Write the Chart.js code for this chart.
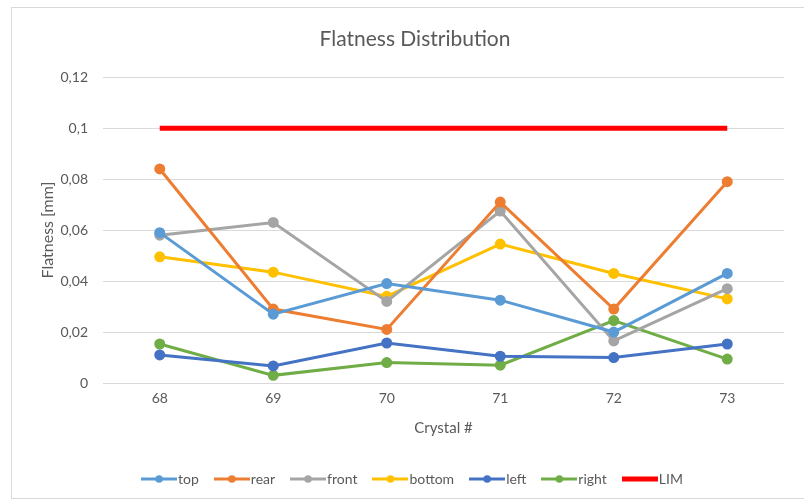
<!DOCTYPE html>
<html>
<head>
<meta charset="utf-8">
<script src="https://cdn.jsdelivr.net/npm/chart.js@4.4.1/dist/chart.umd.min.js"></script>
<style>
  html, body { margin: 0; padding: 0; background: #fff; overflow: hidden; }
  #frame {
    position: absolute; left: 11px; top: 7px; width: 820px; height: 492px;
    border: 1px solid #d9d9d9; box-sizing: border-box;
  }
  #wrap { position: absolute; left: 0; top: 0; width: 804px; height: 501px; }
</style>
</head>
<body>
<div id="frame"></div>
<div id="wrap"><canvas id="chart"></canvas></div>
<script>
// Flatness per crystal
const crystals = ['68', '69', '70', '71', '72', '73'];
const topVals    = [0.059, 0.027, 0.039, 0.0325, 0.020, 0.043];
const rearVals   = [0.084, 0.029, 0.021, 0.071, 0.029, 0.079];
const frontVals  = [0.058, 0.063, 0.032, 0.0675, 0.0165, 0.037];
const bottomVals = [0.0495, 0.0435, 0.034, 0.0545, 0.043, 0.033];
const leftVals   = [0.011, 0.0067, 0.0157, 0.0105, 0.010, 0.0153];
const rightVals  = [0.0153, 0.003, 0.008, 0.007, 0.0245, 0.0094];
const limVals    = [0.1, 0.1, 0.1, 0.1, 0.1, 0.1];
const yTicks = [0, 0.02, 0.04, 0.06, 0.08, 0.1, 0.12];

const TEXT = '#595959';
const GRID = '#d9d9d9';

const series = [
    { label: 'top',    data: topVals,    color: '#5b9bd5' },
    { label: 'rear',   data: rearVals,   color: '#ed7d31' },
    { label: 'front',  data: frontVals,  color: '#a5a5a5' },
    { label: 'bottom', data: bottomVals, color: '#ffc000' },
    { label: 'left',   data: leftVals,   color: '#4472c4' },
    { label: 'right',  data: rightVals,  color: '#70ad47' },
    { label: 'LIM',    data: limVals,    color: '#ff0000', lim: true },
];

// little line-with-marker swatch for the legend, like Excel draws it
function legendIcon(color, thick) {
    const c = document.createElement('canvas');
    c.width = 36; c.height = 10;
    const g = c.getContext('2d');
    g.strokeStyle = color;
    g.lineWidth = thick ? 5 : 3;
    g.beginPath(); g.moveTo(0, 5); g.lineTo(36, 5); g.stroke();
    if (!thick) {
        g.fillStyle = color;
        g.beginPath(); g.arc(18, 5, 3.8, 0, Math.PI * 2); g.fill();
    }
    return c;
}

Chart.defaults.font.family = "Lato, 'Open Sans', sans-serif";
Chart.defaults.color = TEXT;

new Chart(document.getElementById('chart'), {
    type: 'line',
    data: {
        labels: crystals,
        datasets: series.map(s => ({
            label: s.label,
            data: s.data,
            borderColor: s.color,
            backgroundColor: s.color,
            borderWidth: s.lim ? 5 : 3,
            pointRadius: s.lim ? 0 : 4,
            pointHoverRadius: s.lim ? 0 : 5,
            pointBackgroundColor: s.color,
            pointBorderColor: s.color,
            tension: 0,
            order: s.lim ? 10 : 0,
        })),
    },
    options: {
        responsive: true,
        maintainAspectRatio: false,
        animation: false,
        layout: { padding: { left: 26, right: 0, top: 27, bottom: 5 } },
        plugins: {
            title: {
                display: true,
                text: 'Flatness Distribution',
                color: TEXT,
                font: { size: 21, weight: 'normal' },
                padding: { top: 0, bottom: 25 },
            },
            legend: {
                position: 'bottom',
                labels: {
                    usePointStyle: true,
                    pointStyleWidth: 24,
                    padding: 21,
                    color: TEXT,
                    font: { size: 14 },
                    generateLabels(chart) {
                        const items = Chart.defaults.plugins.legend.labels.generateLabels(chart);
                        items.forEach((it, i) => {
                            it.pointStyle = legendIcon(series[i].color, !!series[i].lim);
                        });
                        return items;
                    },
                },
            },
            tooltip: { enabled: false },
        },
        scales: {
            x: {
                offset: true,
                grid: { display: false, drawTicks: false },
                border: { display: false },
                ticks: { color: TEXT, font: { size: 14 }, padding: 7 },
                title: { display: true, text: 'Crystal #', color: TEXT, font: { size: 15 }, padding: { top: 8, bottom: 14 } },
                afterFit: s => { s.height = 68; },
            },
            y: {
                min: 0,
                max: 0.12,
                afterBuildTicks: s => { s.ticks = yTicks.map(v => ({ value: v })); },
                afterFit: s => { s.width = 77; },
                grid: { color: GRID, lineWidth: 1, drawTicks: false },
                border: { display: false },
                ticks: {
                    color: TEXT,
                    font: { size: 14 },
                    padding: 15,
                    callback: v => Number(v.toFixed(2)).toString().replace('.', ','),
                },
                title: { display: true, text: 'Flatness [mm]', color: TEXT, font: { size: 16 }, padding: { top: 12, bottom: 0 } },
            },
            yPad: {
                position: 'right',
                display: true,
                grid: { display: false, drawTicks: false },
                border: { display: false },
                ticks: { display: false },
                afterFit: s => { s.width = 20; },
            },
        },
    },
});
</script>
</body>
</html>
